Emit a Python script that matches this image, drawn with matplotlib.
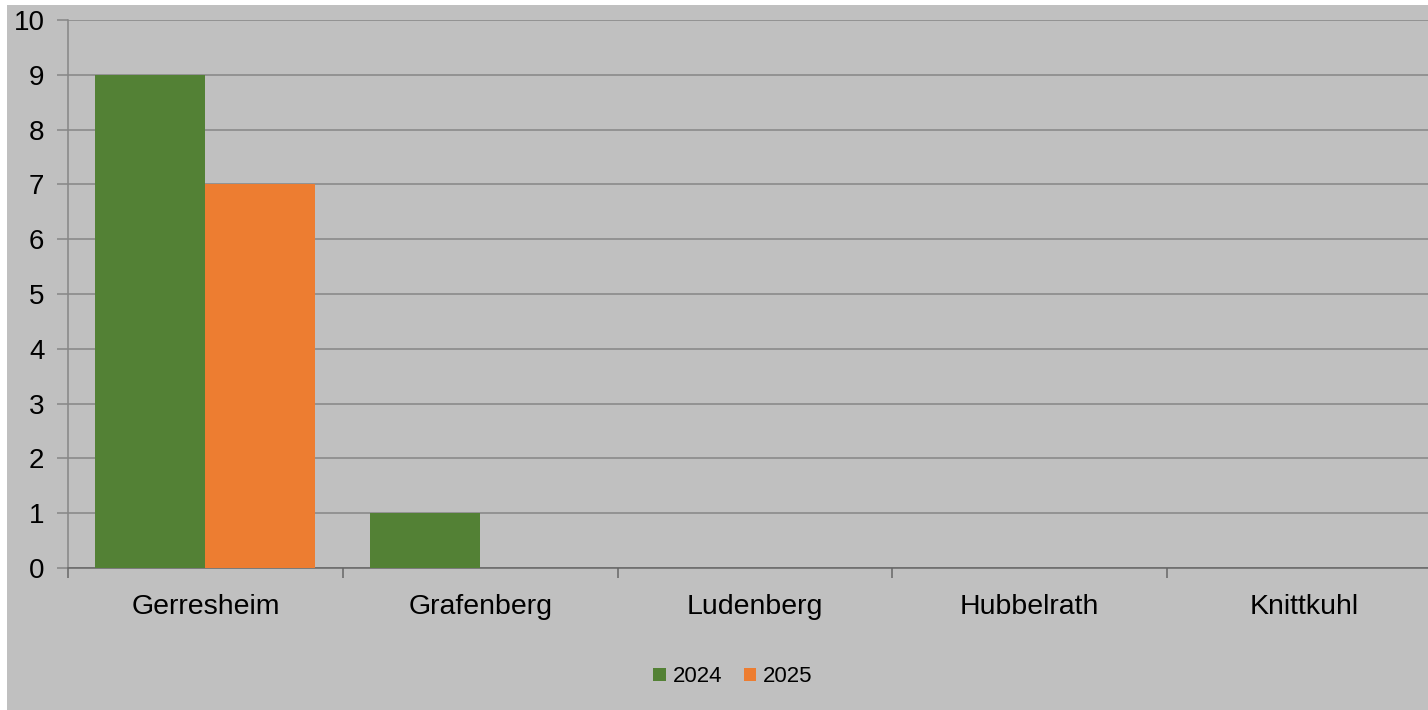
import matplotlib.pyplot as plt
from matplotlib.patches import Rectangle
import numpy as np

districts = ["Gerresheim", "Grafenberg", "Ludenberg", "Hubbelrath", "Knittkuhl"]
years = ["2024", "2025"]
values_2024 = [9, 1, 0, 0, 0]
values_2025 = [7, 0, 0, 0, 0]
colors = ["#538135", "#ED7D31"]

plt.rcParams['font.family'] = ['Liberation Sans', 'DejaVu Sans']

W, H = 1428, 710
fig = plt.figure(figsize=(W / 100, H / 100), dpi=100, facecolor="white")
fig.patches.append(Rectangle((7 / W, 0), 1, 705 / H, transform=fig.transFigure,
                             facecolor="#C0C0C0", edgecolor="none", zorder=-1))

ax = fig.add_axes([68 / W, 142 / H, 5 * 274.8 / W, 548 / H])
ax.set_facecolor("#C0C0C0")

x = np.arange(len(districts)) + 0.5
w = 0.4
for i, (vals, yr) in enumerate(zip([values_2024, values_2025], years)):
    ax.bar(x - w / 2 + i * w, vals, width=w, color=colors[i], label=yr, zorder=3)

ax.set_xlim(0, len(districts))
ax.set_ylim(0, 10)
ax.set_yticks(range(0, 11))
ax.yaxis.grid(True, color="#868686", linewidth=1.1, zorder=0)

ax.set_xticks(range(0, len(districts) + 1))
ax.set_xticklabels([])
ax.set_xticks(x, minor=True)
ax.set_xticklabels(districts, minor=True, fontsize=20.5)
ax.tick_params(axis="x", which="minor", length=0, pad=19)
ax.tick_params(axis="x", which="major", length=7, width=1.1, color="#666666")
ax.tick_params(axis="y", length=8, width=1.1, color="#868686", labelsize=20, pad=9)

for s in ["top", "right"]:
    ax.spines[s].set_visible(False)
ax.spines["left"].set_color("#868686")
ax.spines["left"].set_linewidth(1.1)
ax.spines["bottom"].set_color("#666666")
ax.spines["bottom"].set_linewidth(1.1)

fig.legend(loc="center", bbox_to_anchor=(733 / W, 33 / H), ncol=2, frameon=False,
           fontsize=16, handlelength=0.55, handleheight=0.55, handletextpad=0.3,
           columnspacing=1.0)

fig.savefig("out.png", dpi=100, facecolor="white")
